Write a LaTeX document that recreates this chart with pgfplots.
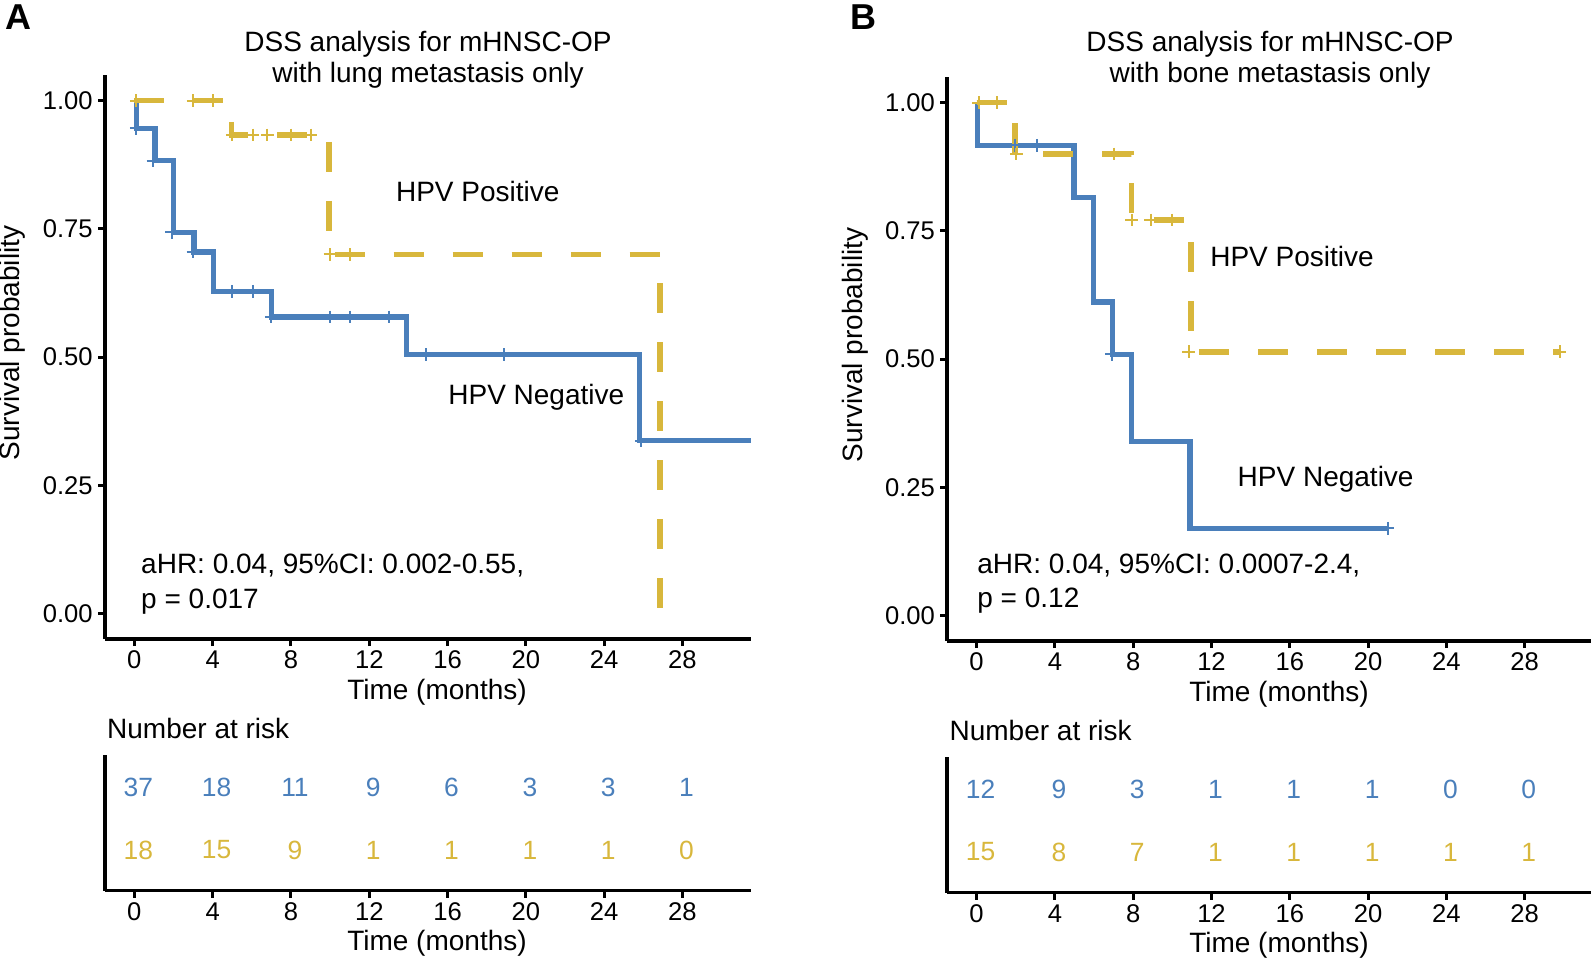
\documentclass[border=0pt]{standalone}
\usepackage{fontspec}
\setmainfont{Liberation Sans}
\usepackage{pgfplots}
\pgfplotsset{compat=1.18}
\definecolor{kmblue}{RGB}{74,127,187}
\definecolor{kmgold}{RGB}{216,183,60}
\pgfplotsset{
  kmbase/.style={
    scale only axis,
    axis lines=left,
    axis line style={-, line width=0.875pt, black},
    xmin=-1.5, xmax=31.5,
    width=161.5pt,
    xtick={0,4,...,28},
    tick align=outside,
    major tick length=1.75pt,
    tick style={line width=0.75pt, black},
    /pgf/number format/assume math mode=true,
    tick label style={font=\fontsize{6.4}{7.7}\selectfont, text=black},
    xticklabel style={yshift=1.3pt},
    yticklabel style={xshift=1.2pt},
  },
  kmmain/.style={kmbase, height=141pt, ymin=-0.05, ymax=1.05, ytick={0,0.25,0.5,0.75,1},
    yticklabel style={/pgf/number format/.cd, fixed, fixed zerofill, precision=2}},
  kmrisk/.style={kmbase, height=33.925pt, ymin=0.354, ymax=2.508, ytick=\empty},
  kmline/.style={const plot, line width=1.33pt},
  kmcens/.style={only marks, mark=+, mark size=1.6pt, mark options={line width=0.5pt}},
  kmrisknum/.style={draw=none, mark=none, nodes near coords, point meta=explicit symbolic,
    nodes near coords align=center,
    every node near coord/.append style={anchor=center, xshift=1pt, text=#1, font=\fontsize{6.6}{8}\selectfont}},
}
\tikzset{lab/.style={inner sep=0pt, font=\fontsize{7}{8.4}\selectfont}}
\begin{document}
\fontsize{7}{8.4}\selectfont
\begin{tikzpicture}
\path[use as bounding box] (0,0) rectangle (397.75pt,-239.25pt);
% ---------------- Panel A ----------------
\begin{axis}[kmmain, at={(26.25pt,-159.75pt)}, anchor=south west]
\addplot[kmline, kmblue] coordinates {(0,1) (0.1,0.946) (1.05,0.883) (2.0,0.743) (3.05,0.705) (4.05,0.628) (7.0,0.578) (13.9,0.505) (25.8,0.337) (31.5,0.337)};
\addplot[kmline, kmgold, dash pattern=on 7.5pt off 7.25pt] coordinates {(0,1) (4.95,0.933) (9.95,0.70) (26.85,0)};
\addplot[kmcens, kmblue] coordinates {(0.1,0.946) (0.95,0.883) (1.9,0.743) (3.0,0.705) (5.0,0.628) (6.05,0.628) (7.0,0.578) (10.0,0.578) (11.0,0.578) (13.0,0.578) (14.9,0.505) (18.9,0.505) (25.9,0.337)};
\addplot[kmcens, kmgold] coordinates {(0.1,1) (3.0,1) (4.0,1) (5.0,0.933) (6.05,0.933) (6.8,0.933) (8.0,0.933) (9.0,0.933) (10.0,0.70) (11.0,0.70)};
\node[lab, anchor=base west] at (axis cs:13.33,0.803) {HPV Positive};
\node[lab, anchor=base west] at (axis cs:16.0,0.408) {HPV Negative};
\node[lab, anchor=base west] at (axis cs:0.31,0.078) {aHR: 0.04, 95\%CI: 0.002-0.55,};
\node[lab, anchor=base west] at (axis cs:0.31,0.0105) {p = 0.017};
\end{axis}
\begin{axis}[kmrisk, at={(26.25pt,-222.675pt)}, anchor=south west]
\addplot[kmrisknum=kmblue] coordinates {(0,2) [37] (4,2) [18] (8,2) [11] (12,2) [9] (16,2) [6] (20,2) [3] (24,2) [3] (28,2) [1]};
\addplot[kmrisknum=kmgold] coordinates {(0,1) [18] (4,1) [15] (8,1) [9] (12,1) [1] (16,1) [1] (20,1) [1] (24,1) [1] (28,1) [0]};
\end{axis}
\node[lab, anchor=base west, font=\fontsize{9}{10.5}\selectfont\bfseries] at (1.25pt,-7.4pt) {A};
\node[lab, anchor=base] at (107pt,-12.8pt) {DSS analysis for mHNSC-OP};
\node[lab, anchor=base] at (107pt,-20.6pt) {with lung metastasis only};
\node[lab, anchor=base, rotate=90] at (5pt,-85.75pt) {Survival probability};
\node[lab, anchor=base] at (109.25pt,-174.95pt) {Time (months)};
\node[lab, anchor=base west] at (26.6pt,-184.7pt) {Number at risk};
\node[lab, anchor=base] at (109.25pt,-237.7pt) {Time (months)};
% ---------------- Panel B ----------------
\begin{axis}[kmmain, at={(236.8pt,-160.25pt)}, anchor=south west]
\addplot[kmline, kmblue] coordinates {(0,1) (0.05,0.917) (4.98,0.815) (5.97,0.611) (6.95,0.509) (7.93,0.339) (10.9,0.170) (21.0,0.170)};
\addplot[kmline, kmgold, dash pattern=on 7.5pt off 7.25pt] coordinates {(0,1) (1.97,0.90) (7.93,0.771) (10.95,0.514) (29.8,0.514)};
\addplot[kmcens, kmblue] coordinates {(1.97,0.917) (3.07,0.917) (6.9,0.509) (21.0,0.170)};
\addplot[kmcens, kmgold] coordinates {(0.1,1) (1.04,1) (2.03,0.90) (7.0,0.90) (7.93,0.771) (8.9,0.771) (9.96,0.771) (10.83,0.514) (29.8,0.514)};
\node[lab, anchor=base west] at (axis cs:11.9,0.681) {HPV Positive};
\node[lab, anchor=base west] at (axis cs:13.3,0.251) {HPV Negative};
\node[lab, anchor=base west] at (axis cs:0.0,0.082) {aHR: 0.04, 95\%CI: 0.0007-2.4,};
\node[lab, anchor=base west] at (axis cs:0.0,0.0158) {p = 0.12};
\end{axis}
\begin{axis}[kmrisk, at={(236.8pt,-223.175pt)}, anchor=south west]
\addplot[kmrisknum=kmblue] coordinates {(0,2) [12] (4,2) [9] (8,2) [3] (12,2) [1] (16,2) [1] (20,2) [1] (24,2) [0] (28,2) [0]};
\addplot[kmrisknum=kmgold] coordinates {(0,1) [15] (4,1) [8] (8,1) [7] (12,1) [1] (16,1) [1] (20,1) [1] (24,1) [1] (28,1) [1]};
\end{axis}
\node[lab, anchor=base west, font=\fontsize{9}{10.5}\selectfont\bfseries] at (212.5pt,-7.25pt) {B};
\node[lab, anchor=base] at (317.5pt,-12.8pt) {DSS analysis for mHNSC-OP};
\node[lab, anchor=base] at (317.5pt,-20.6pt) {with bone metastasis only};
\node[lab, anchor=base, rotate=90] at (215.5pt,-86.25pt) {Survival probability};
\node[lab, anchor=base] at (319.75pt,-175.45pt) {Time (months)};
\node[lab, anchor=base west] at (237.2pt,-185.2pt) {Number at risk};
\node[lab, anchor=base] at (319.75pt,-238.2pt) {Time (months)};
\end{tikzpicture}
\end{document}
